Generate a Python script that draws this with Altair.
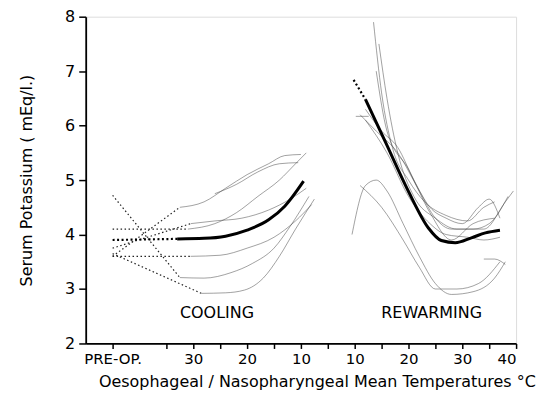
import altair as alt
import pandas as pd

# Virtual x position: PRE-OP = -5, cooling temperature T -> 40 - T, rewarming T -> 30 + T
tick_values = [-5, 5, 10, 15, 20, 25, 30, 35, 40, 45, 50, 55, 60, 65, 70]
label_values = [-5, 10, 20, 30, 40, 50, 60, 70]
label_texts = ["PRE-OP.", "30", "20", "10", "10", "20", "30", "40"]
y_ticks = [2, 3, 4, 5, 6, 7, 8]

# ---- dotted pre-op -> start of cooling segments ----
dot1_x = [-5, 7.5];  dot1_y = [4.72, 3.21]
dot2_x = [-5, 11.5]; dot2_y = [3.65, 2.92]
dot3_x = [-5, 9.5];  dot3_y = [3.60, 3.60]
dot4_x = [-5, 7.5];  dot4_y = [3.60, 4.50]
dot5_x = [-5, 9.0];  dot5_y = [4.10, 4.10]
dot6_x = [-5, 9.5];  dot6_y = [3.75, 4.20]
mean_dot_x = [-5, 7.0]; mean_dot_y = [3.90, 3.92]
rdot_x = [39.8, 42.0]; rdot_y = [6.84, 6.48]

# ---- cooling curves ----
c1_x = [7.5, 12, 17, 21, 25, 28, 31.5];  c1_y = [3.21, 3.20, 3.30, 3.47, 3.75, 4.15, 4.70]
c2_x = [11.5, 16, 19.5, 23, 26, 29, 32.5]; c2_y = [2.92, 2.93, 2.98, 3.20, 3.60, 4.10, 4.65]
c3_x = [9.5, 15, 20, 25, 29, 32];  c3_y = [3.60, 3.62, 3.75, 3.95, 4.25, 4.55]
c4_x = [7.5, 12, 16, 20, 24, 27, 30]; c4_y = [4.50, 4.60, 4.85, 5.10, 5.30, 5.45, 5.47]
c5_x = [9, 14, 18, 22, 26, 29, 31]; c5_y = [4.10, 4.20, 4.40, 4.70, 5.00, 5.30, 5.50]
c6_x = [9.5, 14, 19, 24, 28, 31]; c6_y = [4.20, 4.25, 4.30, 4.45, 4.65, 4.85]
c7_x = [14, 18, 22, 26, 29.5]; c7_y = [4.75, 4.92, 5.15, 5.30, 5.32]
mean_c_x = [7, 12, 16, 20, 24, 27, 30.5]; mean_c_y = [3.92, 3.93, 3.97, 4.08, 4.27, 4.52, 4.98]

# ---- rewarming curves ----
r1_x = [43.5, 45, 47, 50, 53, 57, 61, 64, 66];   r1_y = [7.90, 6.60, 5.60, 5.00, 4.60, 4.35, 4.25, 4.50, 4.60]
r2_x = [42, 45, 48, 51, 54, 57, 60, 63, 65, 67]; r2_y = [6.30, 5.90, 5.60, 5.00, 4.50, 4.30, 4.20, 4.50, 4.65, 4.30]
r3_x = [41, 44, 48, 52, 55, 58, 62, 65, 68.5];    r3_y = [6.20, 5.90, 5.50, 4.80, 4.30, 4.10, 4.10, 4.20, 4.70]
r4_x = [42, 46, 50, 54, 57, 61, 64, 67];          r4_y = [6.10, 5.50, 4.70, 4.20, 4.00, 3.95, 3.90, 3.95]
r5_x = [44, 46, 50, 54, 58, 62, 66];              r5_y = [7.00, 5.90, 5.20, 4.40, 3.90, 4.20, 4.30]
r6_x = [39.5, 42, 44, 46, 49, 52, 55, 58, 62, 66, 68]; r6_y = [4.00, 4.90, 5.00, 4.80, 4.20, 3.60, 3.10, 2.90, 2.95, 3.20, 3.50]
r7_x = [41, 45, 49, 52, 55, 59, 63, 67];          r7_y = [4.90, 4.50, 3.90, 3.40, 3.00, 3.00, 3.10, 3.50]
r8_x = [64, 66, 68];                              r8_y = [3.55, 3.55, 3.45]
r9_x = [44.5, 46, 48, 51, 55, 59, 64, 68, 69.5];  r9_y = [7.50, 6.50, 5.50, 4.70, 4.30, 4.10, 4.10, 4.60, 4.80]
r10_x = [40.2, 42.6];                             r10_y = [6.17, 6.17]
mean_r_x = [42, 45.7, 50, 53.7, 56.1, 58.7, 61.7, 64.3, 67]; mean_r_y = [6.48, 5.70, 4.79, 4.12, 3.89, 3.85, 3.94, 4.03, 4.08]

phase_x = [14.4, 54.3]
phase_y = [2.56, 2.56]
phase_text = ["COOLING", "REWARMING"]


def frame(groups):
    rows = []
    for name, xs, ys in groups:
        for i, (a, b) in enumerate(zip(xs, ys)):
            rows.append({"series": name, "i": i, "pos": a, "val": b})
    return pd.DataFrame(rows)


dotted_df = frame([("d1", dot1_x, dot1_y), ("d2", dot2_x, dot2_y), ("d3", dot3_x, dot3_y),
                   ("d4", dot4_x, dot4_y), ("d5", dot5_x, dot5_y), ("d6", dot6_x, dot6_y)])
mean_dot_df = frame([("md", mean_dot_x, mean_dot_y), ("rd", rdot_x, rdot_y)])
thin_df = frame([("c1", c1_x, c1_y), ("c2", c2_x, c2_y), ("c3", c3_x, c3_y), ("c4", c4_x, c4_y),
                 ("c5", c5_x, c5_y), ("c6", c6_x, c6_y), ("c7", c7_x, c7_y),
                 ("r1", r1_x, r1_y), ("r2", r2_x, r2_y), ("r3", r3_x, r3_y), ("r4", r4_x, r4_y),
                 ("r5", r5_x, r5_y), ("r6", r6_x, r6_y), ("r7", r7_x, r7_y), ("r8", r8_x, r8_y),
                 ("r9", r9_x, r9_y), ("r10", r10_x, r10_y)])
mean_df = frame([("mc", mean_c_x, mean_c_y), ("mr", mean_r_x, mean_r_y)])
text_df = pd.DataFrame({"pos": phase_x, "val": phase_y, "t": phase_text})

label_expr = " : ".join(
    f"datum.value == {v} ? '{t}'" for v, t in zip(label_values, label_texts)
) + " : ''"

FONT = "DejaVu Sans"

x_scale = alt.Scale(domain=[-10, 70], nice=False, zero=False)
y_scale = alt.Scale(domain=[2, 8], nice=False, zero=False)

x_enc = alt.X("pos:Q", scale=x_scale, axis=alt.Axis(
    values=tick_values, labelExpr=label_expr, grid=False,
    title="Oesophageal / Nasopharyngeal Mean Temperatures °C",
    titleFont=FONT, titleFontSize=16, titleFontWeight="normal", titleColor="black",
    titleX=232,
    labelFont=FONT, labelFontSize=15, labelColor="black", labelPadding=3,
    tickSize=5, tickColor="black", tickWidth=1.5, domainColor="black", domainWidth=1.8,
    titlePadding=7, labelOverlap=False))
y_enc = alt.Y("val:Q", scale=y_scale, axis=alt.Axis(
    values=y_ticks, grid=False, title="Serum Potassium ( mEq/l.)",
    titleFont=FONT, titleFontSize=16, titleFontWeight="normal", titleColor="black",
    labelFont=FONT, labelFontSize=16, labelColor="black", labelPadding=4,
    tickSize=7, tickColor="black", tickWidth=1.5, domainColor="black", domainWidth=1.8,
    titlePadding=30))

dotted = alt.Chart(dotted_df).mark_line(
    color="#222", strokeWidth=1.2, strokeDash=[1.5, 2.5]
).encode(x=x_enc, y=y_enc, detail="series:N", order="i:Q")

mean_dot = alt.Chart(mean_dot_df).mark_line(
    color="black", strokeWidth=2.2, strokeDash=[2, 2.5]
).encode(x=x_enc, y=y_enc, detail="series:N", order="i:Q")

thin = alt.Chart(thin_df).mark_line(
    color="#3a3a3a", strokeWidth=0.8, opacity=0.6, interpolate="monotone"
).encode(x=x_enc, y=y_enc, detail="series:N", order="i:Q")

mean = alt.Chart(mean_df).mark_line(
    color="black", strokeWidth=3, interpolate="monotone"
).encode(x=x_enc, y=y_enc, detail="series:N", order="i:Q")

text = alt.Chart(text_df).mark_text(
    font=FONT, fontSize=16, color="black"
).encode(x=x_enc, y=y_enc, text="t:N")

chart = alt.layer(thin, dotted, mean_dot, mean, text).properties(
    width=432, height=328,
    autosize=alt.AutoSizeParams(type="none"),
    padding={"left": 78, "top": 8, "right": 25, "bottom": 50},
).configure_view(stroke=None).configure(background="white")

chart.save("out.html", embed_options={"renderer": "svg", "actions": False})
